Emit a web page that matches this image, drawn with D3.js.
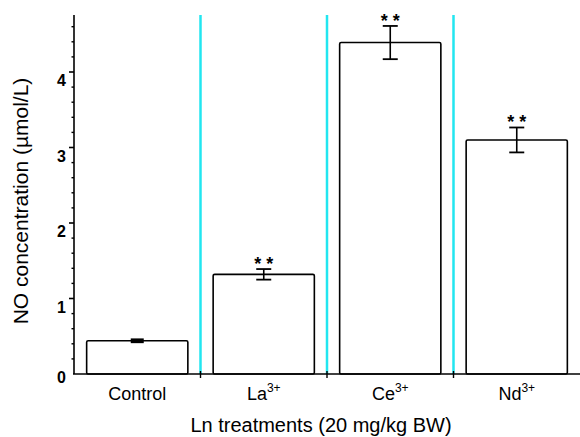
<!DOCTYPE html>
<html>
<head>
<meta charset="utf-8">
<style>
  body { margin: 0; background: white; }
  svg { font-family: Arial, 'Liberation Sans', sans-serif; }
</style>
</head>
<body>
<svg width="580" height="437"></svg>
<script src="https://d3js.org/d3.v7.min.js"></script>
<script>
// data
let groups = ["Control", "La", "Ce", "Nd"];
let charges = ["", "3+", "3+", "3+"];
let values = [0.44, 1.32, 4.39, 3.10];
let errors = [0.015, 0.07, 0.22, 0.165];
let marks = ["", "* *", "* *", "* *"];
let yTicks = [0, 1, 2, 3, 4];

let margin = {top: 15, left: 74, right: 0, bottom: 63};
let w = 580, h = 437;

let svg = d3.select("svg");

let x = d3.scaleBand()
  .domain(groups)
  .range([margin.left, w - margin.right])
  .paddingInner(0.2)
  .paddingOuter(0.1);

let y = d3.scaleLinear()
  .domain([0, 4.755])
  .range([h - margin.bottom, margin.top]);

let step = x.step();

// cyan separators between the groups
svg.append("g")
  .selectAll("line")
  .data(groups.slice(1))
  .join("line")
  .attr("x1", d => x(d) - step * 0.1)
  .attr("x2", d => x(d) - step * 0.1)
  .attr("y1", y(4.755))
  .attr("y2", y(0))
  .style("stroke", "#22e6f0")
  .style("stroke-width", 2.5);

// bars
svg.append("g")
  .selectAll("rect")
  .data(values)
  .join("rect")
  .attr("x", (d, i) => x(groups[i]))
  .attr("y", d => y(d))
  .attr("width", x.bandwidth())
  .attr("height", d => y(0) - y(d))
  .attr("rx", 1.5)
  .style("fill", "white")
  .style("stroke", "black")
  .style("stroke-width", 1.6);

// error bars
let eb = svg.append("g").style("stroke", "black").style("stroke-width", 1.6);
values.forEach(function(v, i) {
  let cx = x(groups[i]) + x.bandwidth() / 2;
  let cap = i == 0 ? 6.5 : 7.5;
  eb.append("line")
    .attr("x1", cx).attr("x2", cx)
    .attr("y1", y(v + errors[i])).attr("y2", y(v - errors[i]));
  [v + errors[i], v - errors[i]].forEach(function(e) {
    eb.append("line")
      .attr("x1", cx - cap).attr("x2", cx + cap)
      .attr("y1", y(e)).attr("y2", y(e))
      .style("stroke-width", i == 0 ? 2.5 : 1.8);
  });
});

// significance stars
svg.append("g")
  .selectAll("text")
  .data(values)
  .join("text")
  .attr("x", (d, i) => x(groups[i]) + x.bandwidth() / 2)
  .attr("y", (d, i) => y(d + errors[i]) + 1)
  .attr("text-anchor", "middle")
  .style("font-size", "18px")
  .style("font-weight", "bold")
  .style("white-space", "pre")
  .text((d, i) => marks[i]);

// y axis
let yAxis = svg.append("g")
  .attr("transform", "translate(" + margin.left + ",0)");
yAxis.append("line")
  .attr("x1", 0).attr("x2", 0)
  .attr("y1", y(4.755)).attr("y2", y(0))
  .style("stroke", "black").style("stroke-width", 1.6);

let minor = d3.range(0.2, 4.75, 0.2).filter(t => Math.abs(t - Math.round(t)) > 0.01);
yAxis.selectAll(".minor")
  .data(minor)
  .join("line")
  .attr("class", "minor")
  .attr("x1", -2.5).attr("x2", 0)
  .attr("y1", d => y(d)).attr("y2", d => y(d))
  .style("stroke", "black").style("stroke-width", 1.4);

yAxis.selectAll(".major")
  .data(yTicks.slice(1))
  .join("line")
  .attr("class", "major")
  .attr("x1", -5).attr("x2", 0)
  .attr("y1", d => y(d)).attr("y2", d => y(d))
  .style("stroke", "black").style("stroke-width", 1.6);

yAxis.selectAll("text")
  .data(yTicks)
  .join("text")
  .attr("x", -8)
  .attr("y", d => y(d) + (d == 0 ? 9 : 14))
  .attr("text-anchor", "end")
  .style("font-size", "16px")
  .style("font-weight", "bold")
  .text(d => d);

// x axis
let xAxis = svg.append("g");
xAxis.append("line")
  .attr("x1", margin.left - 1).attr("x2", w)
  .attr("y1", y(0)).attr("y2", y(0))
  .style("stroke", "black").style("stroke-width", 1.6);

xAxis.selectAll(".sep")
  .data(groups.slice(1))
  .join("line")
  .attr("class", "sep")
  .attr("x1", d => x(d) - step * 0.1)
  .attr("x2", d => x(d) - step * 0.1)
  .attr("y1", y(0) - 3).attr("y2", y(0) + 4)
  .style("stroke", "black").style("stroke-width", 1.4);

let labels = xAxis.selectAll(".lab")
  .data(groups)
  .join("text")
  .attr("class", "lab")
  .attr("x", d => x(d) + x.bandwidth() / 2)
  .attr("y", y(0) + 26)
  .attr("text-anchor", "middle")
  .style("font-size", "18px");
labels.append("tspan").text(d => d);
labels.append("tspan")
  .attr("dy", -8)
  .style("font-size", "12px")
  .text((d, i) => charges[i]);

// axis titles
svg.append("text")
  .attr("x", 321)
  .attr("y", 432)
  .attr("text-anchor", "middle")
  .style("font-size", "20px")
  .text("Ln treatments (20 mg/kg BW)");

svg.append("text")
  .attr("transform", "translate(28,201) rotate(-90)")
  .attr("text-anchor", "middle")
  .style("font-size", "21px")
  .text("NO concentration (µmol/L)");
</script>
</body>
</html>
